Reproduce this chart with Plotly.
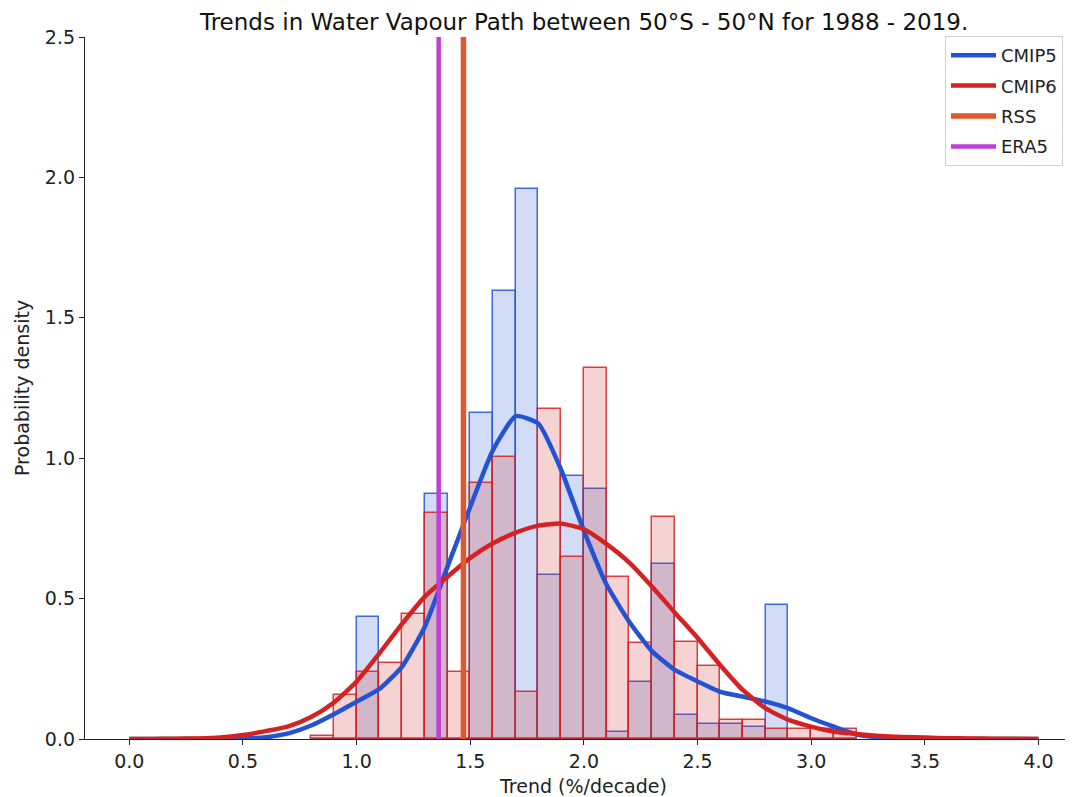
import plotly.graph_objects as go

# ---------------- data ----------------
bin_left = [0.8, 0.9, 1.0, 1.1, 1.2, 1.3, 1.4, 1.5, 1.6, 1.7, 1.8, 1.9,
            2.0, 2.1, 2.2, 2.3, 2.4, 2.5, 2.6, 2.7, 2.8, 2.9, 3.0, 3.1]
bin_width = 0.1
cmip5_hist = [0.0, 0.0, 0.433, 0.0, 0.0, 0.871, 0.0, 1.160, 1.595, 1.960, 0.585, 0.938,
              0.889, 0.025, 0.203, 0.624, 0.085, 0.052, 0.052, 0.044, 0.477, 0.0, 0.0, 0.0]
cmip6_hist = [0.012, 0.157, 0.240, 0.272, 0.444, 0.805, 0.239, 0.913, 1.003, 0.167, 1.177, 0.647,
              1.321, 0.576, 0.341, 0.791, 0.345, 0.261, 0.068, 0.068, 0.036, 0.036, 0.036, 0.036]

kde_x = [0.0, 0.1, 0.2, 0.3, 0.4, 0.5, 0.6, 0.7, 0.8, 0.9, 1.0, 1.1, 1.2, 1.3, 1.4,
         1.5, 1.6, 1.7, 1.8, 1.9, 2.0, 2.1, 2.2, 2.3, 2.4, 2.5, 2.6, 2.7, 2.8, 2.9,
         3.0, 3.1, 3.2, 3.3, 3.4, 3.5, 3.6, 3.7, 3.8, 3.9, 4.0]
cmip5_kde = [0.0, 0.0, 0.0, 0.0, 0.0, 0.001, 0.006, 0.02, 0.048, 0.088, 0.133, 0.178, 0.258,
             0.40, 0.614, 0.827, 1.029, 1.15, 1.123, 0.958, 0.741, 0.549, 0.417, 0.312,
             0.246, 0.205, 0.168, 0.151, 0.133, 0.109, 0.074, 0.044, 0.016, 0.006, 0.002,
             0.001, 0.0, 0.0, 0.0, 0.0, 0.0]
cmip6_kde = [0.0, 0.0, 0.001, 0.002, 0.005, 0.014, 0.028, 0.045, 0.078, 0.13, 0.205, 0.305,
             0.41, 0.507, 0.578, 0.645, 0.697, 0.735, 0.76, 0.767, 0.747, 0.694, 0.628,
             0.542, 0.45, 0.36, 0.263, 0.174, 0.109, 0.068, 0.044, 0.026, 0.018, 0.011,
             0.007, 0.005, 0.003, 0.002, 0.001, 0.001, 0.0]

rss_trend = 1.470
era5_trend = 1.361

x_ticks = [0.0, 0.5, 1.0, 1.5, 2.0, 2.5, 3.0, 3.5, 4.0]
y_ticks = [0.0, 0.5, 1.0, 1.5, 2.0, 2.5]

title_text = "Trends in Water Vapour Path between 50°S - 50°N for 1988 - 2019."
x_label = "Trend (%/decade)"
y_label = "Probability density"

# ---------------- styling ----------------
BLUE = "#2352d2"
RED = "#d42121"
ORANGE = "#e2582e"
PURPLE = "#c03dd6"
FONT = "DejaVu Sans"

fig = go.Figure()

fig.add_trace(go.Bar(x=bin_left, y=cmip5_hist, width=bin_width, offset=0,
                     marker=dict(color="rgba(35,82,210,0.2)",
                                 line=dict(color="rgba(35,82,210,0.85)", width=1.5)),
                     showlegend=False, hoverinfo="skip"))
fig.add_trace(go.Bar(x=bin_left, y=cmip6_hist, width=bin_width, offset=0,
                     marker=dict(color="rgba(212,33,33,0.2)",
                                 line=dict(color="rgba(212,33,33,0.85)", width=1.5)),
                     showlegend=False, hoverinfo="skip"))

fig.add_trace(go.Scatter(x=kde_x, y=cmip5_kde, mode="lines", name="CMIP5",
                         line=dict(color=BLUE, width=4.5, shape="spline", smoothing=0.5),
                         legendgroup="a"))
fig.add_trace(go.Scatter(x=kde_x, y=cmip6_kde, mode="lines", name="CMIP6",
                         line=dict(color=RED, width=4.5, shape="spline", smoothing=0.6),
                         legendgroup="b"))
fig.add_trace(go.Scatter(x=[rss_trend, rss_trend], y=[y_ticks[0], y_ticks[-1]], mode="lines",
                         name="RSS", line=dict(color=ORANGE, width=5.5), legendgroup="c"))
fig.add_trace(go.Scatter(x=[era5_trend, era5_trend], y=[y_ticks[0], y_ticks[-1]], mode="lines",
                         name="ERA5", line=dict(color=PURPLE, width=4.5), legendgroup="d"))

# the page body adds an 8px offset; work in figure coordinates = page - 8
OFF = 8
W, H = 1073 - OFF, 797 - OFF
L = 85 - OFF
T = 37 - OFF
plot_bottom = 739 - OFF
plot_right = 1071 - OFF
R = W - plot_right
B = H - plot_bottom
pw = W - L - R
ph = H - T - B
px_per_unit = 227.3
xmin = -0.195
xmax = xmin + pw / px_per_unit


def px(xpage):
    return (xpage - OFF - L) / pw


def py(ypage):
    return (plot_bottom - (ypage - OFF)) / ph


fig.update_layout(
    width=W, height=H,
    margin=dict(l=L, r=R, t=T, b=B, pad=0),
    paper_bgcolor="white", plot_bgcolor="white",
    barmode="overlay", bargap=0,
    font=dict(family=FONT, size=19, color="#222"),
    showlegend=True,
    legend=dict(x=px(1063), xanchor="right", y=py(36), yanchor="top",
                bgcolor="white", bordercolor="#d0d0d0", borderwidth=1,
                font=dict(family=FONT, size=18, color="#222"),
                tracegroupgap=4, itemwidth=45),
    xaxis=dict(range=[xmin, xmax], tickvals=x_ticks,
               ticktext=[f"{v:.1f}" for v in x_ticks],
               showgrid=False, zeroline=False, showline=True, linecolor="#222",
               linewidth=1.3, ticks="outside", ticklen=5, tickwidth=1.3, tickcolor="#222",
               tickfont=dict(family=FONT, size=19, color="#222")),
    yaxis=dict(range=[0, 2.5], tickvals=y_ticks,
               ticktext=[f"{v:.1f}" for v in y_ticks],
               showgrid=False, zeroline=False, showline=True, linecolor="#222",
               linewidth=1.3, ticks="outside", ticklen=5, tickwidth=1.3, tickcolor="#222",
               tickfont=dict(family=FONT, size=19, color="#222")),
    annotations=[
        dict(text=title_text, xref="paper", yref="paper",
             x=px(583), y=py(22), xanchor="center", yanchor="middle", borderpad=0,
             showarrow=False, font=dict(family=FONT, size=23, color="#111")),
        dict(text=x_label, xref="paper", yref="paper",
             x=px(583), y=py(786), xanchor="center", yanchor="middle",
             showarrow=False, font=dict(family=FONT, size=19, color="#222")),
        dict(text=y_label, xref="paper", yref="paper",
             x=px(22), y=0.5, xanchor="center", yanchor="middle", textangle=-90,
             showarrow=False, font=dict(family=FONT, size=19, color="#222")),
    ],
)

fig.write_html("out.html")
